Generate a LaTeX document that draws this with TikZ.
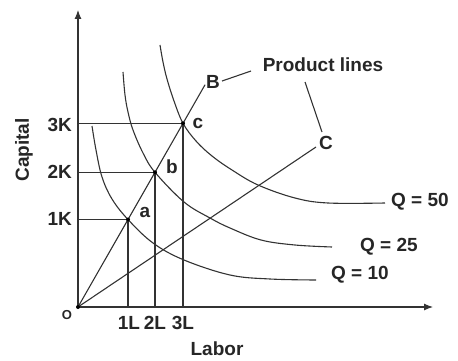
\documentclass[tikz,border=0pt]{standalone}
\usepackage{fontspec}
\setmainfont{Liberation Sans}
\usetikzlibrary{arrows.meta,calc}
\begin{document}
\begin{tikzpicture}[x=1pt,y=-1pt,
  ln/.style={line width=1.1pt,draw=black!80},
  lbl/.style={font=\fontsize{19}{22}\selectfont\bfseries,inner sep=0pt,text=black!85},
  dot/.style={circle,fill=black,inner sep=0pt,minimum size=4pt}]
\useasboundingbox (0,0) rectangle (458,361);
% axes
\coordinate (O) at (78,307);
\coordinate (ytop) at (78,10);
\coordinate (xend) at (433,307);
\draw[ln,-{Latex[length=9pt,width=7pt]}] (O) -- (ytop);
\draw[ln,-{Latex[length=9pt,width=7pt]}] (O) -- (xend);
% points
\coordinate (a) at (128,219.5);
\coordinate (b) at (155,172.3);
\coordinate (c) at (183,123.3);
\coordinate (Bend) at ($(O)!1.21!(c)$);
\coordinate (Cend) at (316,147);
% guide lines
\draw[ln] (O |- a) -- (a) -- (a |- O);
\draw[ln] (O |- b) -- (b) -- (b |- O);
\draw[ln] (O |- c) -- (c) -- (c |- O);
% product lines
\draw[ln] (O) -- (Bend);
\draw[ln] (O) -- (Cend);
% isoquants
\draw[ln] plot[smooth,tension=0.6] coordinates {(92,126) (96,150) (102,177) (112,199) (128,219.5) (153,243) (184,260) (230,275) (270,279) (316,280)};
\draw[ln] plot[smooth,tension=0.6] coordinates {(123,72) (125,95) (128,112) (133,130) (143,153) (155,172.3) (184,202) (210,218) (230,228) (261,240) (295,245) (332,247)};
\draw[ln] plot[smooth,tension=0.6] coordinates {(160,45) (163,62) (167,79) (174,101) (183,123.3) (196,141) (212,156) (232,170) (258,185) (295,198) (328,203) (385,203)};
% dots
\node[dot] (dO) at (O) {};
\node[dot] (da) at (a) {};
\node[dot] (db) at (b) {};
\node[dot] (dc) at (c) {};
% labels
\node[lbl,anchor=east] (k3) at (72,125) {3K};
\node[lbl,anchor=east] (k2) at (72,172) {2K};
\node[lbl,anchor=east] (k1) at (72,219) {1K};
\node[lbl] (l1) at (129,323) {1L};
\node[lbl] (l2) at (155,323) {2L};
\node[lbl] (l3) at (183,323) {3L};
\node[lbl] (labor) at (217,349) {Labor};
\node[lbl,rotate=90] (capital) at (24,150) {Capital};
\node[font=\fontsize{13}{15}\selectfont\bfseries,inner sep=0pt,text=black!85] (olbl) at (67,315) {O};
\node[lbl] (la) at (145,212) {a};
\node[lbl] (lb) at (172,167) {b};
\node[lbl] (lc) at (198,123) {c};
\node[lbl] (lB) at (213,82) {B};
\node[lbl] (lC) at (326,143) {C};
\node[lbl] (PL) at (323,65) {Product lines};
\node[lbl,anchor=west] (q50) at (391,202) {Q = 50};
\node[lbl,anchor=west] (q25) at (360,247) {Q = 25};
\node[lbl,anchor=west] (q10) at (331,275) {Q = 10};
% leaders
\coordinate (pb) at (251,71);
\coordinate (pc1) at (305,82);
\coordinate (pc2) at (322,132);
\draw[ln] (lB.east) ++(2,-1) -- (pb);
\draw[ln] (pc1) -- (pc2);
\end{tikzpicture}
\end{document}
